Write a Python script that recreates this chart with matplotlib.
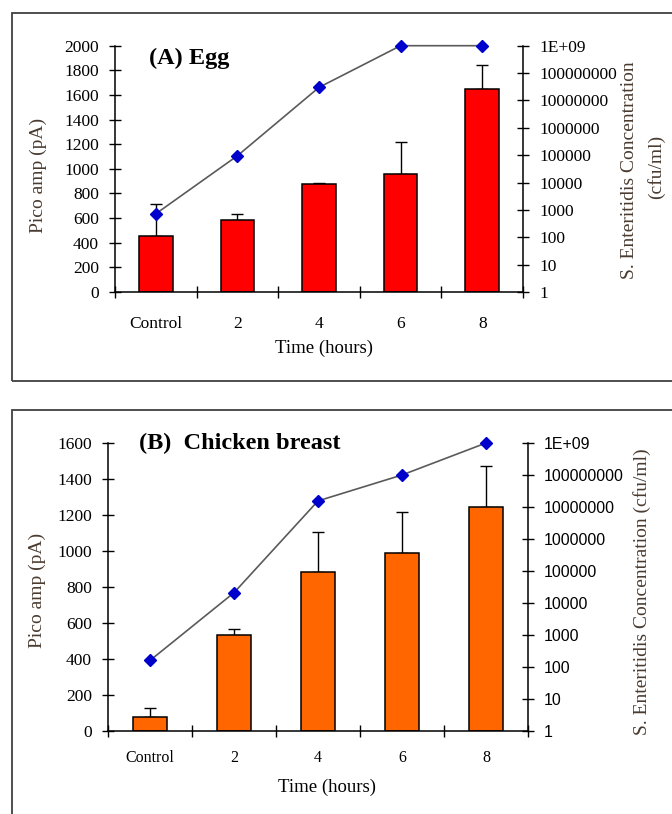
import numpy as np
import matplotlib
matplotlib.use('Agg')
import matplotlib.pyplot as plt
from matplotlib.patches import Rectangle
from matplotlib.ticker import FixedLocator, NullFormatter

# data
categories = ['Control', '2', '4', '6', '8']

egg_pa = [455, 582, 878, 962, 1650]
egg_err = [262, 53, 4, 255, 192]
egg_cfu = [7.2e2, 9.5e4, 3.0e7, 1e9, 1e9]

chicken_pa = [78, 536, 886, 988, 1242]
chicken_err = [52, 30, 220, 226, 232]
chicken_cfu = [1.6e2, 2.1e4, 1.55e7, 1.0e8, 1e9]

decade_labels = ['1', '10', '100', '1000', '10000', '100000', '1000000',
                 '10000000', '100000000', '1E+09']

W, H = 672, 814
fig = plt.figure(figsize=(W / 100, H / 100), dpi=100)

label_col = '#4a3b30'


def px(x, y):
    return x / W, 1 - y / H


def axes_px(x0, y0, x1, y1):
    return [x0 / W, 1 - y1 / H, (x1 - x0) / W, (y1 - y0) / H]


def panel(rect, vals, errs, cfu, color, ymax, ystep, rfont, rsize, lsize, xsize, xpad):
    ax = fig.add_axes(rect)
    x = np.arange(len(categories))
    ax.bar(x, vals, width=0.41, color=color, edgecolor='black', linewidth=1.1, zorder=2)
    ax.errorbar(x, vals, yerr=[np.zeros(len(vals)), errs], fmt='none',
                ecolor='black', elinewidth=1.0, capsize=4.5, capthick=1.0, zorder=1)
    ax.set_xlim(-0.5, len(categories) - 0.5)
    ax.set_ylim(0, ymax)
    ax.set_yticks(np.arange(0, ymax + 1, ystep))
    ax.set_xticks(x)
    ax.set_xticklabels(categories, family='Liberation Serif', fontsize=xsize)
    ax.xaxis.set_minor_locator(FixedLocator(np.arange(-0.5, len(categories), 1.0)))
    ax.xaxis.set_minor_formatter(NullFormatter())
    ax.tick_params(axis='x', which='major', length=0, pad=xpad)
    ax.tick_params(axis='x', which='minor', direction='inout', length=9, width=1.0)
    ax.tick_params(axis='y', direction='inout', length=9, width=1.0, pad=7)
    for t in ax.get_yticklabels():
        t.set_family('Liberation Serif')
        t.set_fontsize(lsize)
    for s in ['top', 'right']:
        ax.spines[s].set_visible(False)
    for s in ['left', 'bottom']:
        ax.spines[s].set_linewidth(1.1)
    ax.patch.set_alpha(0)

    ax2 = ax.twinx()
    ax2.set_yscale('log')
    ax2.set_ylim(1, 1e9)
    ax2.plot(x, cfu, color='#5a5a5a', linewidth=1.2, marker='D', markersize=6,
             markerfacecolor='#0000CC', markeredgecolor='#0000CC', zorder=3, clip_on=False)
    ax2.yaxis.set_major_locator(FixedLocator([10.0 ** k for k in range(10)]))
    ax2.set_yticklabels(decade_labels, family=rfont, fontsize=rsize)
    ax2.yaxis.set_minor_formatter(NullFormatter())
    ax2.tick_params(axis='y', which='minor', length=0)
    ax2.tick_params(axis='y', which='major', direction='inout', length=9, width=1.0, pad=7)
    for s in ['top', 'left', 'bottom']:
        ax2.spines[s].set_visible(False)
    ax2.spines['right'].set_linewidth(1.1)
    return ax, ax2


# outer frames
for (y0, y1) in [(13, 381), (410, 830)]:
    fig.patches.append(Rectangle(px(12, y1), (700 - 12) / W, (y1 - y0) / H,
                                 transform=fig.transFigure, fill=False,
                                 edgecolor='#404040', linewidth=1.3))

# Panel A - Egg
panel(axes_px(115, 45.7, 523, 292), egg_pa, egg_err, egg_cfu, '#FF0000',
      2000, 200, 'Liberation Serif', 12.5, 12.5, 12.5, 17)
fig.text(*px(149, 58), '(A) Egg', family='Liberation Serif', fontweight='bold',
         fontsize=17.5, va='center', ha='left')
fig.text(*px(38, 175), 'Pico amp (pA)', family='Liberation Serif', fontsize=14,
         rotation=90, va='center', ha='center', color=label_col)
fig.text(*px(630, 170), 'S. Enteritidis Concentration', family='Liberation Serif',
         fontsize=14, rotation=90, va='center', ha='center', color=label_col)
fig.text(*px(656, 167), '(cfu/ml)', family='Liberation Serif',
         fontsize=14, rotation=90, va='center', ha='center', color=label_col)
fig.text(*px(324, 348), 'Time (hours)', family='Liberation Serif', fontsize=13.5,
         va='center', ha='center')

# Panel B - Chicken breast
panel(axes_px(108, 443, 528, 731), chicken_pa, chicken_err, chicken_cfu, '#FF6600',
      1600, 200, 'Liberation Sans', 11.5, 12.5, 11.5, 14)
fig.text(*px(139, 443), '(B)  Chicken breast', family='Liberation Serif',
         fontweight='bold', fontsize=17.5, va='center', ha='left')
fig.text(*px(37, 590), 'Pico amp (pA)', family='Liberation Serif', fontsize=14,
         rotation=90, va='center', ha='center', color=label_col)
fig.text(*px(642, 592), 'S. Enteritidis Concentration (cfu/ml)',
         family='Liberation Serif', fontsize=14, rotation=90, va='center',
         ha='center', color=label_col)
fig.text(*px(327, 787), 'Time (hours)', family='Liberation Serif', fontsize=13.5,
         va='center', ha='center')

fig.savefig('out.png', dpi=100)
